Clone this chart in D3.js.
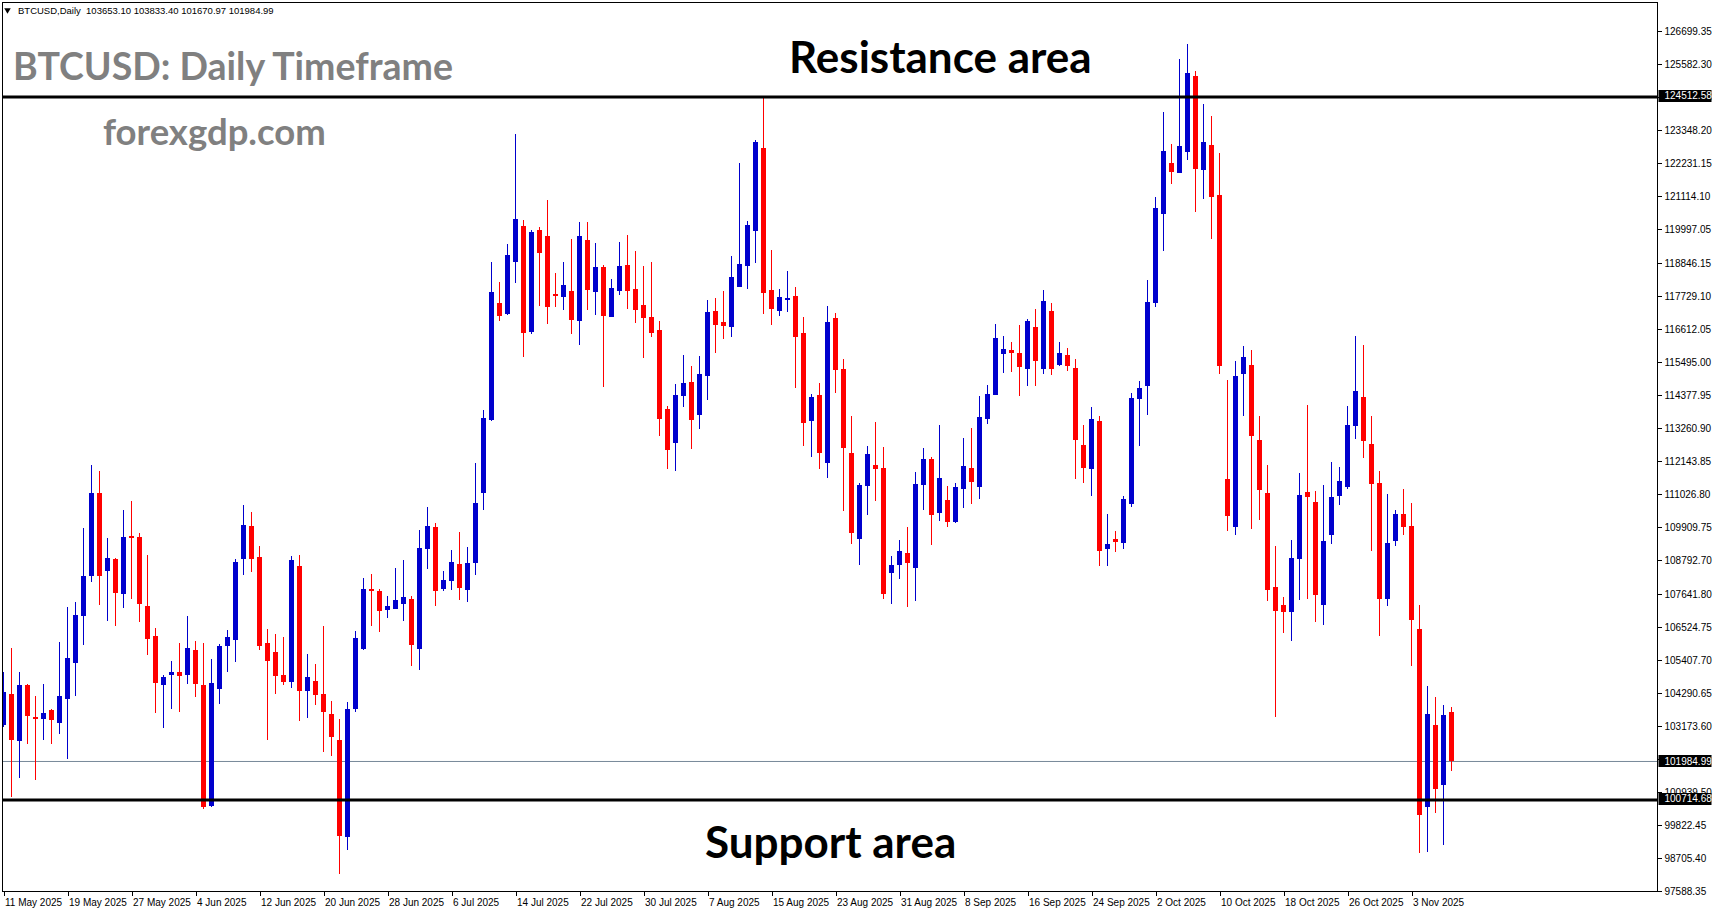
<!DOCTYPE html>
<html>
<head>
<meta charset="utf-8">
<script src="https://cdn.jsdelivr.net/npm/d3@7/dist/d3.min.js"></script>
<style>
  html, body { margin: 0; padding: 0; background: #ffffff; overflow: hidden; }
  svg { display: block; }
</style>
</head>
<body>
<svg id="chart"></svg>
<script>
// daily BTCUSD candles, 11 May 2025 .. 8 Nov 2025
const startDay = "11 May 2025";

const opens = [
  103220,104269,102688,104574,103490,103423,103727,103287,104110,105328,
  106919,108273,111073,108443,108839,107664,109617,109583,107248,106232,
  104584,104922,105014,104922,105758,104574,100488,104448,105904,106107,
  108849,109956,108906,105995,105691,104912,104685,108602,104381,104709,
  104269,103592,102712,99439,103761,105792,107823,107755,107122,107156,
  107326,107485,105802,109187,109922,107833,108104,108669,107799,108713,
  111083,113544,117504,117142,118902,120111,116533,119975,119772,117819,
  117718,117910,116905,119637,117887,118723,117040,117921,118791,117978,
  117437,117030,116590,113916,112775,114366,114830,113723,115043,117233,
  116861,116702,118056,118767,119952,122751,117944,117244,117616,117741,
  116489,113520,114390,112098,116997,115270,112427,109526,111320,112021,
  111919,108375,108646,109042,108544,111354,112224,110406,110836,110101,
  111218,111919,111286,113588,114400,115788,115913,115812,115280,116692,
  115280,117233,115416,115744,115304,112698,111895,113510,109187,109516,
  109390,110711,114265,114681,117494,120514,122240,121912,122609,125185,
  122020,122849,121157,111553,109935,115104,115416,112877,111073,107874,
  107285,107028,108849,111110,110761,107285,109641,110981,111276,113354,
  114329,112731,111405,107468,109455,110359,109952,106456,100441,103203,
  101178,103653.10
];

const highs = [
  105024,105816,105003,104597,104201,104607,103761,106029,107214,107383,
  109888,112021,111817,109550,108873,110497,110802,109719,108974,106503,
  104912,105386,105995,106909,106063,105995,105454,105961,106435,108839,
  110667,110430,109279,106469,106300,106198,108940,108974,105623,105284,
  106571,104032,103423,103998,106401,108196,108331,107823,107586,108534,
  108805,107586,109820,110599,110057,108432,109143,109753,109245,112088,
  113882,118892,118215,119501,123225,120314,119975,120077,120991,118520,
  118892,119671,120246,120246,119535,118791,118317,119569,119806,119264,
  118757,118892,116895,114018,114762,115744,115372,115710,117606,117674,
  117910,119095,122243,120280,123022,124511,119298,117978,118587,118046,
  117030,114424,114796,117403,117166,115609,113679,111411,112664,113476,
  112630,108940,109482,109922,111784,112596,112291,113375,111310,111411,
  112935,113273,114356,114729,116793,116387,116184,116760,116963,117301,
  117944,117504,116184,115981,115609,113375,113984,113679,110362,109786,
  110971,114458,114864,118266,121082,123970,122886,125774,126271,125368,
  124247,123841,122572,114881,115544,116059,115930,113686,112031,109272,
  107542,109475,111757,114055,111147,111350,112122,111956,114018,116374,
  116096,113686,111811,111039,110504,111201,110724,107265,104526,104178,
  103880,103833.40
];

const lows = [
  103162,100793,101436,102587,101358,102722,102587,102925,102079,104211,
  105938,108070,107292,106750,106581,107190,107495,106716,105599,103636,
  103128,103771,103670,104618,104178,100386,100444,103941,105024,105362,
  108307,108409,105769,102722,104279,104584,104482,103365,103467,103907,
  102316,102180,98186,98999,103670,105758,106581,106378,106852,107156,
  106750,105227,105092,108510,107258,107766,107799,107461,107393,108307,
  110508,113510,116905,117108,118191,115686,116465,117413,116804,117379,
  117278,116465,116093,117278,117108,114671,117040,117785,117311,116837,
  115653,116364,113012,111885,111828,113994,112572,113249,114231,115822,
  116296,116364,118056,117988,118868,117142,116770,117074,117210,114637,
  112674,112301,111895,111591,114468,110474,109357,108646,110338,110812,
  107495,107326,108172,107224,107427,110508,109323,110135,109932,110067,
  110575,110711,110880,113419,114400,115145,115179,114366,114705,114705,
  115111,115077,115382,115213,111557,111421,110981,108612,108612,109086,
  109187,110609,112674,113723,117365,119278,121543,121912,122352,120585,
  121028,119684,115084,109770,109658,113669,109861,110172,107431,103494,
  106347,106070,107451,107468,106713,106608,109363,110653,111222,112897,
  112271,109126,106236,107248,109289,109658,105224,98877,98914,100237,
  99154,101670.97
];

const closes = [
  104326,102722,104574,103534,103433,103626,103399,104201,105488,106943,
  108263,111073,108273,108873,107698,109583,109560,107326,106141,104651,
  104834,105014,104888,105826,104618,100454,104641,105894,106198,108737,
  109990,108849,105904,105396,104888,104685,108805,104381,104844,104245,
  103670,102824,99472,103761,106165,107823,107766,107089,107248,107451,
  107552,105938,109211,109956,107766,108128,108737,107867,108703,110734,
  113612,117877,117074,119129,120348,116499,119908,119207,117379,117751,
  118114,116939,119772,117954,118723,117074,118012,118757,117921,117278,
  117007,116499,113588,112538,114390,114796,113554,115101,117200,116770,
  116736,118384,118824,120145,122954,117853,117311,117707,117674,116364,
  113452,114322,112437,116861,115247,112606,109729,111344,112393,111895,
  107664,108636,109109,108713,111377,112224,110338,111581,110101,111276,
  111987,111455,113645,114424,116320,115947,115822,115348,116895,115551,
  117572,115280,115812,115382,112877,111929,113578,109120,109346,109424,
  110870,114288,114627,117552,120713,122646,121945,122812,125297,122057,
  122958,121099,115362,110301,115050,115693,112989,111168,107799,107082,
  107045,108866,111002,110927,107634,109438,110944,111479,113375,114532,
  112823,111367,107488,109380,110359,109935,106787,100166,103605,101050,
  103568,101984.99
];

const priceTicks = [
  126699.35,125582.30,124465.25,123348.20,122231.15,121114.10,119997.05,
  118846.15,117729.10,116612.05,115495.00,114377.95,113260.90,112143.85,
  111026.80,109909.75,108792.70,107641.80,106524.75,105407.70,104290.65,
  103173.60,102056.55,100939.50,99822.45,98705.40,97588.35
];

const dateLabels = [
  "11 May 2025","19 May 2025","27 May 2025","4 Jun 2025","12 Jun 2025",
  "20 Jun 2025","28 Jun 2025","6 Jul 2025","14 Jul 2025","22 Jul 2025",
  "30 Jul 2025","7 Aug 2025","15 Aug 2025","23 Aug 2025","31 Aug 2025",
  "8 Sep 2025","16 Sep 2025","24 Sep 2025","2 Oct 2025","10 Oct 2025",
  "18 Oct 2025","26 Oct 2025","3 Nov 2025"
];

const resistance = 124512.58;
const support = 100714.68;
const lastPrice = 101984.99;

const width = 1714;
const height = 915;
const plot = { left: 2.5, top: 2.5, right: 1657.5, bottom: 891.5 };
const barStep = 8;
const bodyWidth = 5;
const upColor = "#0000cd";
const downColor = "#ff0000";
const axisFont = "'Liberation Sans', Arial, sans-serif";
const textFont = "Lato, 'Open Sans', sans-serif";

const svg = d3.select("#chart")
  .attr("width", width)
  .attr("height", height)
  .style("background", "#ffffff");

const parseDay = d3.timeParse("%d %b %Y");
const day0 = parseDay(startDay);

// one bar every 8px, first bar centred at x = 3.5
const xScale = d3.scaleLinear()
  .domain([0, 206])
  .range([3.5, 3.5 + 206 * barStep]);

// 33.85 per pixel, support line sits at y = 799
const yScale = d3.scaleLinear()
  .domain([97583.5, 127676.2])
  .range([plot.bottom, plot.top]);

const candles = opens.map((o, i) => ({
  i: i,
  o: o,
  h: highs[i],
  l: lows[i],
  c: closes[i]
}));

svg.append("clipPath")
  .attr("id", "plotClip")
  .append("rect")
  .attr("x", plot.left + 0.5)
  .attr("y", plot.top + 0.5)
  .attr("width", plot.right - plot.left - 1)
  .attr("height", plot.bottom - plot.top - 1);

const gPlot = svg.append("g").attr("clip-path", "url(#plotClip)");

// bid line
gPlot.append("line")
  .attr("x1", plot.left).attr("x2", plot.right)
  .attr("y1", yScale(lastPrice)).attr("y2", yScale(lastPrice))
  .attr("stroke", "#778899")
  .attr("stroke-width", 1);

// candles
const gCandles = gPlot.append("g").attr("shape-rendering", "crispEdges");

gCandles.selectAll("line.wick")
  .data(candles)
  .join("line")
  .attr("class", "wick")
  .attr("x1", d => xScale(d.i)).attr("x2", d => xScale(d.i))
  .attr("y1", d => yScale(d.h)).attr("y2", d => yScale(d.l))
  .attr("stroke", d => d.c >= d.o ? upColor : downColor)
  .attr("stroke-width", 1);

gCandles.selectAll("rect.body")
  .data(candles)
  .join("rect")
  .attr("class", "body")
  .attr("x", d => xScale(d.i) - bodyWidth / 2)
  .attr("width", bodyWidth)
  .attr("y", d => yScale(Math.max(d.o, d.c)))
  .attr("height", d => Math.max(1.5, Math.abs(yScale(d.o) - yScale(d.c))))
  .attr("fill", d => d.c >= d.o ? upColor : downColor);

// support / resistance
gPlot.selectAll("line.level")
  .data([resistance, support])
  .join("line")
  .attr("class", "level")
  .attr("x1", plot.left).attr("x2", plot.right)
  .attr("y1", d => yScale(d) + 1).attr("y2", d => yScale(d) + 1)
  .attr("stroke", "#000000")
  .attr("stroke-width", 3);

// frame
svg.append("rect")
  .attr("x", plot.left).attr("y", plot.top)
  .attr("width", plot.right - plot.left)
  .attr("height", plot.bottom - plot.top)
  .attr("fill", "none")
  .attr("stroke", "#000000")
  .attr("stroke-width", 1)
  .attr("shape-rendering", "crispEdges");

// price axis
const yAxis = d3.axisRight(yScale)
  .tickValues(priceTicks)
  .tickSize(4)
  .tickPadding(3)
  .tickFormat(d3.format(".2f"));

const gY = svg.append("g")
  .attr("transform", `translate(${plot.right},0)`)
  .call(yAxis);
gY.select(".domain").remove();
gY.selectAll("line").attr("stroke", "#000").attr("shape-rendering", "crispEdges");
gY.selectAll("text")
  .attr("font-family", axisFont)
  .attr("font-size", 10)
  .attr("fill", "#000");

// highlighted price labels
const boxes = [resistance, lastPrice, support];
const gBox = svg.append("g");
gBox.selectAll("rect")
  .data(boxes)
  .join("rect")
  .attr("x", plot.right + 1)
  .attr("y", d => Math.round(yScale(d)) - 6)
  .attr("width", 53)
  .attr("height", 12)
  .attr("fill", "#000");
gBox.selectAll("text")
  .data(boxes)
  .join("text")
  .attr("x", plot.right + 7)
  .attr("y", d => yScale(d))
  .attr("dy", "0.35em")
  .attr("font-family", axisFont)
  .attr("font-size", 10)
  .attr("fill", "#fff")
  .text(d => d3.format(".2f")(d));

// time axis
const tickDays = dateLabels.map(s => d3.timeDay.count(day0, parseDay(s)));
const xAxis = d3.axisBottom(xScale)
  .tickValues(tickDays)
  .tickSize(4)
  .tickPadding(3)
  .tickFormat((d, i) => dateLabels[i]);

const gX = svg.append("g")
  .attr("transform", `translate(0,${plot.bottom})`)
  .call(xAxis);
gX.select(".domain").remove();
gX.selectAll("line").attr("stroke", "#000").attr("shape-rendering", "crispEdges");
gX.selectAll("text")
  .attr("text-anchor", "start")
  .attr("x", 1)
  .attr("font-family", axisFont)
  .attr("font-size", 10)
  .attr("fill", "#000");

// header line
svg.append("path")
  .attr("d", d3.symbol(d3.symbolTriangle, 18)())
  .attr("transform", "translate(7.5,10) rotate(180)")
  .attr("fill", "#000");
svg.append("text")
  .attr("x", 18)
  .attr("y", 14)
  .attr("font-family", axisFont)
  .attr("font-size", 9.5)
  .attr("fill", "#000")
  .attr("xml:space", "preserve")
  .text("BTCUSD,Daily  " + [opens, highs, lows, closes].map(a => a[a.length - 1].toFixed(2)).join(" "));

// annotations
svg.append("text")
  .attr("x", 13).attr("y", 80)
  .attr("font-family", textFont).attr("font-weight", 700)
  .attr("font-size", 37.5).attr("fill", "#808080")
  .text("BTCUSD: Daily Timeframe");

svg.append("text")
  .attr("x", 103).attr("y", 145)
  .attr("font-family", textFont).attr("font-weight", 700)
  .attr("font-size", 36.5).attr("fill", "#808080")
  .text("forexgdp.com");

svg.append("text")
  .attr("x", 789).attr("y", 73)
  .attr("font-family", textFont).attr("font-weight", 700)
  .attr("font-size", 44).attr("fill", "#000")
  .text("Resistance area");

svg.append("text")
  .attr("x", 705).attr("y", 858)
  .attr("font-family", textFont).attr("font-weight", 700)
  .attr("font-size", 44).attr("fill", "#000")
  .text("Support area");
</script>
</body>
</html>
